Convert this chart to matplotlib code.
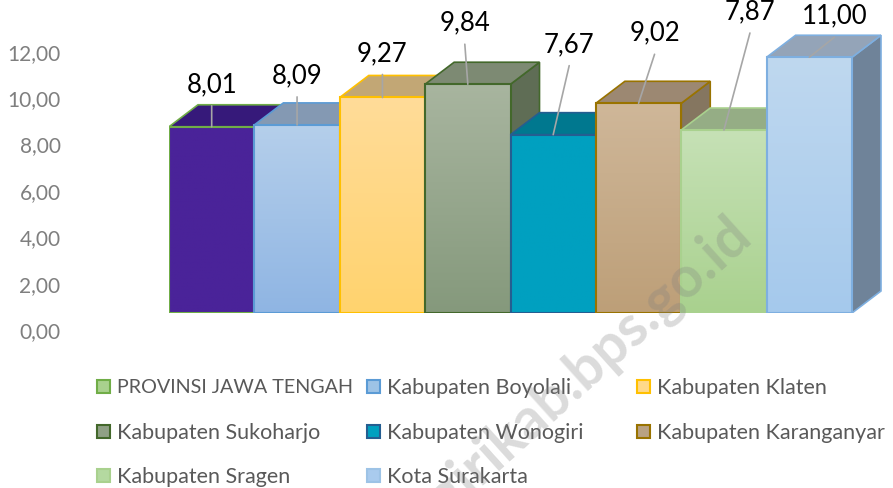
import matplotlib
matplotlib.use("Agg")
import matplotlib.pyplot as plt
import numpy as np
from matplotlib.patches import Polygon, Rectangle
from matplotlib.colors import LinearSegmentedColormap

# ---------------- data ----------------
categories = ["PROVINSI JAWA TENGAH", "Kabupaten Boyolali", "Kabupaten Klaten",
              "Kabupaten Sukoharjo", "Kabupaten Wonogiri", "Kabupaten Karanganyar",
              "Kabupaten Sragen", "Kota Surakarta"]
values = [8.01, 8.09, 9.27, 9.84, 7.67, 9.02, 7.87, 11.00]
value_labels = ["8,01", "8,09", "9,27", "9,84", "7,67", "9,02", "7,87", "11,00"]
yticks = [0, 2, 4, 6, 8, 10, 12]
ytick_labels = ["0,00", "2,00", "4,00", "6,00", "8,00", "10,00", "12,00"]

# ---------------- styles ----------------
front_top = ["#4A2399", "#B5CFEB", "#FFDC99", "#A8B59F", "#00A0C0", "#CFB799", "#C6E1B6", "#BFD8EF"]
front_bot = ["#4A2399", "#8FB5E3", "#FFD36E", "#85997C", "#00A0C0", "#BD9F78", "#A9D18E", "#A5C9EC"]
top_col = ["#36197A", "#8499B3", "#C2A775", "#7D8A73", "#00788F", "#9C8872", "#95AD85", "#94A4B8"]
side_col = ["#2C1463", "#6F8399", "#A08A5F", "#5F6D55", "#006275", "#857660", "#7C9070", "#6F8399"]
edge_col = ["#70AD47", "#5B9BD5", "#FFC000", "#43682B", "#255E91", "#997300", "#A9D18E", "#7EAFE0"]
legend_face = ["#A9D18E", "#9DC3E6", "#FFD98A", "#8FA085", "#00A0C0", "#B9A283", "#B4D9A0", "#A9CBEE"]
legend_edge = ["#70AD47", "#5B9BD5", "#FFC000", "#43682B", "#255E91", "#997300", "#A9D18E", "#9DC3E6"]
legend_size = [14.2, 15.5, 15.5, 15.5, 15.5, 15.5, 15.5, 15.5]
# label offsets (pixels) relative to the centre of each bar's front top edge
label_dx = [0, 0, 0, -3, 16, 16, 26, 25]
label_dy = [42, 49, 44, 61, 90, 70, 118, 41]
line_gap = 21

FONT = ["Lato", "DejaVu Sans"]
plt.rcParams["font.family"] = FONT

W, H = 893, 488
fig = plt.figure(figsize=(W / 100, H / 100), dpi=100)

# geometry (pixels)
bar_px = 85.375          # width of one bar
unit_px = 23.25          # pixels per value unit
depth_x_px, depth_y_px = 29, 22
ax_left, ax_right = 169, 882
front_base = 313         # from top

ax = fig.add_axes([ax_left / W, (H - front_base) / H, (ax_right - ax_left) / W, front_base / H])
ax.axis("off")

ddx = depth_x_px / bar_px
ddy = depth_y_px / unit_px

for i, v in enumerate(values):
    x0, x1 = i - 0.5, i + 0.5
    side = Polygon([(x1, 0), (x1 + ddx, ddy), (x1 + ddx, v + ddy), (x1, v)], closed=True,
                   facecolor=side_col[i], edgecolor=edge_col[i], lw=1.2, zorder=2 + i * 3)
    ax.add_patch(side)
    top = Polygon([(x0, v), (x0 + ddx, v + ddy), (x1 + ddx, v + ddy), (x1, v)], closed=True,
                  facecolor=top_col[i], edgecolor=edge_col[i], lw=1.2, zorder=3 + i * 3)
    ax.add_patch(top)
    cmap = LinearSegmentedColormap.from_list("g%d" % i, [front_bot[i], front_top[i]])
    grad = np.linspace(0, 1, 256).reshape(-1, 1)
    im = ax.imshow(grad, cmap=cmap, origin="lower", extent=[x0, x1, 0, v], aspect="auto",
                   zorder=4 + i * 3, interpolation="bilinear")
    rect = Rectangle((x0, 0), 1, v, facecolor="none", edgecolor=edge_col[i], lw=1.5,
                     zorder=4.5 + i * 3)
    ax.add_patch(rect)
    im.set_clip_path(rect)

ax.set_xlim(-0.5, -0.5 + (ax_right - ax_left) / bar_px)
ax.set_ylim(0, front_base / unit_px)

# data labels with leader lines
for i, v in enumerate(values):
    ax.annotate("", xy=(i, v), xytext=(label_dx[i], label_dy[i] - line_gap),
                textcoords="offset pixels",
                arrowprops=dict(arrowstyle="-", color="#A6A6A6", lw=1.2, shrinkA=0, shrinkB=0),
                zorder=40, annotation_clip=False)
    ax.annotate(value_labels[i], xy=(i, v), xytext=(label_dx[i], label_dy[i]),
                textcoords="offset pixels", ha="center", va="center",
                fontsize=18.5, color="#000000", zorder=41, annotation_clip=False)

# value axis (back wall)
zero_px = 330
ax2 = fig.add_axes([62 / W, (H - zero_px) / H, 1 / W, zero_px / H])
ax2.set_ylim(0, zero_px / 23.2)
ax2.set_yticks(yticks)
ax2.set_yticklabels(ytick_labels)
ax2.tick_params(axis="y", length=0, pad=1, labelsize=15, labelcolor="#7F7F7F")
ax2.set_xticks([])
for s in ax2.spines.values():
    s.set_visible(False)
ax2.patch.set_alpha(0)

# legend (row-wise, three columns)
col_x = [97, 367, 637]
row_y = [386, 431, 475]
for k, name in enumerate(categories):
    r, c = divmod(k, 3)
    mx, my = col_x[c], row_y[r]
    fig.patches.append(Rectangle(((mx) / W, (H - my - 6.5) / H), 13 / W, 13 / H,
                                 transform=fig.transFigure, facecolor=legend_face[k],
                                 edgecolor=legend_edge[k], lw=1.5))
    fig.text((mx + 20) / W, (H - my) / H, name, ha="left", va="center_baseline",
             fontsize=legend_size[k], color="#595959")

# watermark
fig.text(754 / W, (H - 240) / H, "wonogirikab.bps.go.id", rotation=42, rotation_mode="anchor",
         ha="right", va="baseline", fontsize=41, fontweight="bold", color="#7F7F7F",
         alpha=0.28, zorder=100)

fig.savefig("out.png", dpi=100)
